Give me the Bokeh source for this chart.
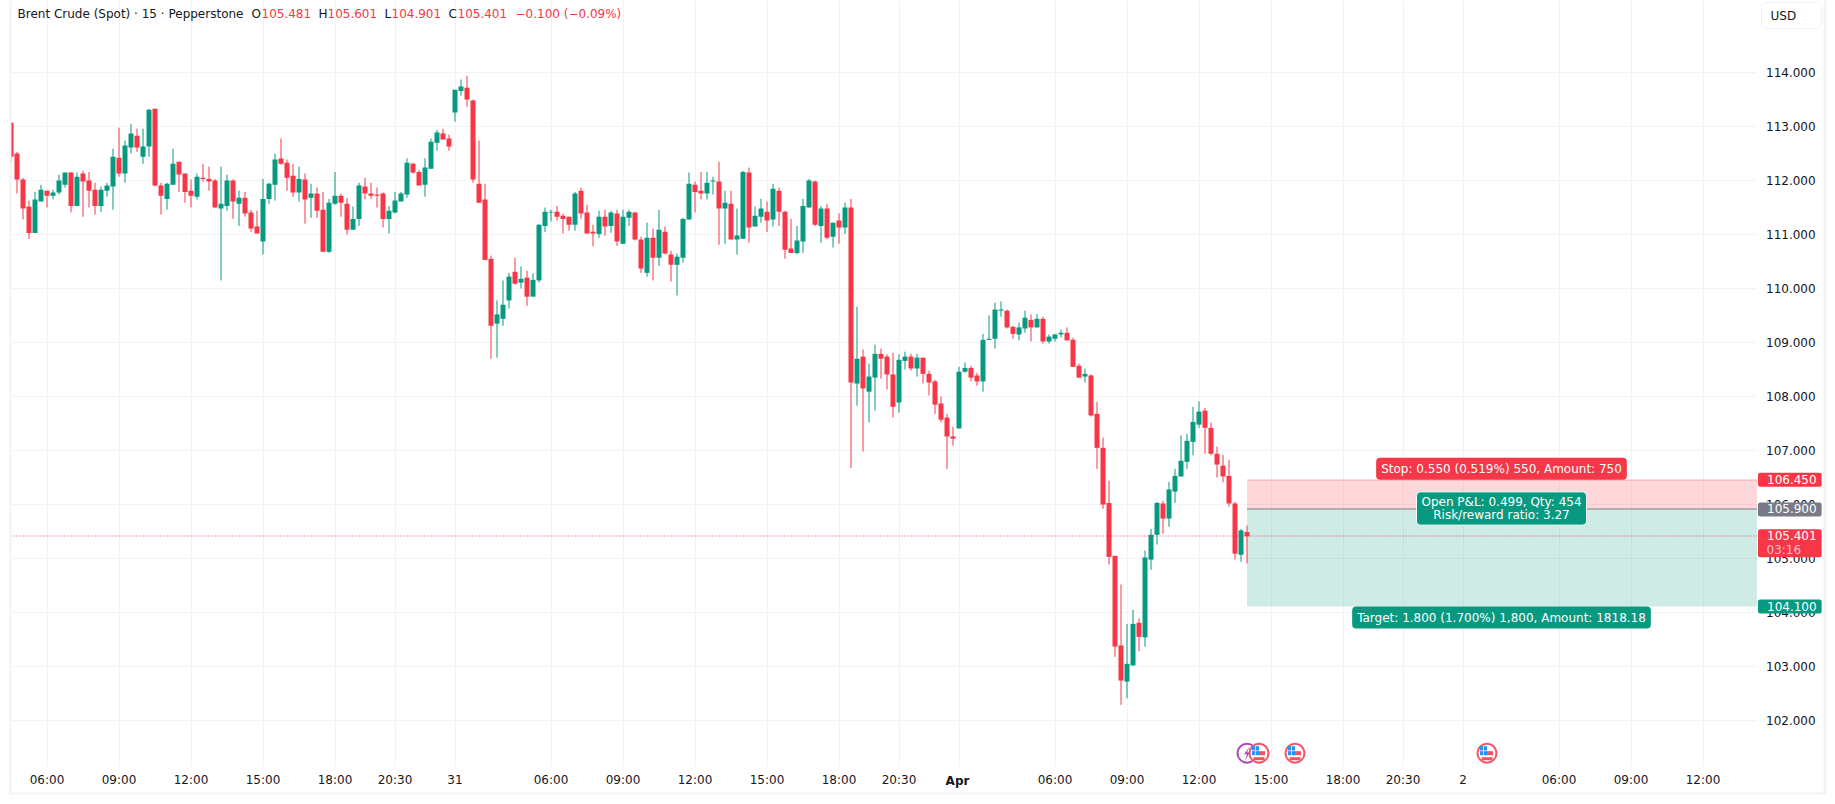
from math import floor
from bokeh.plotting import figure
from bokeh.models import LinearAxis, FixedTicker, Label, Grid, NumeralTickFormatter
from bokeh.embed import file_html
from bokeh.resources import INLINE

# OHLC of the 15 minute candles: wick high, upper body edge, lower body edge, wick low
highs = [113.06,112.52,112.04,111.62,111.78,111.91,111.80,111.82,112.10,112.14,
112.15,112.14,112.17,112.15,111.95,111.88,111.95,112.58,112.97,112.73,
113.04,112.95,112.95,113.32,113.32,111.95,111.95,112.58,112.34,112.12,
112.01,112.12,112.30,112.25,112.02,112.25,112.10,112.01,111.80,111.78,
111.45,111.43,112.02,111.95,112.49,112.77,112.38,112.30,112.25,112.12,
111.93,111.86,111.78,111.65,112.15,111.75,111.67,111.51,111.95,112.04,
111.95,111.86,111.77,111.52,111.78,111.78,112.40,112.32,112.19,112.40,
112.77,112.93,112.95,112.84,113.67,113.86,113.93,113.49,112.73,111.93,
110.60,109.77,110.14,110.28,110.56,110.40,110.32,110.27,111.19,111.49,
111.45,111.52,111.38,111.32,111.78,111.86,111.54,111.17,111.43,111.45,
111.43,111.45,111.45,111.45,111.41,110.95,111.21,111.10,111.45,111.14,
110.69,110.64,111.30,112.14,111.97,112.15,112.15,112.06,112.34,111.80,
111.80,111.47,112.17,112.23,111.51,111.65,111.60,111.93,111.86,111.43,
111.28,111.15,111.65,112.02,111.99,111.52,111.56,111.21,111.38,111.58,
111.65,109.65,108.86,108.60,108.95,108.88,108.77,108.80,108.77,108.82,
108.78,108.78,108.71,108.47,108.30,107.99,107.67,107.43,108.54,108.62,
108.56,108.43,109.15,109.49,109.73,109.75,109.60,109.30,109.36,109.58,
109.51,109.52,109.47,109.14,109.15,109.23,109.27,109.08,108.60,108.51,
108.40,107.89,107.23,106.43,105.04,104.51,103.78,104.04,103.88,105.14,
105.54,106.04,106.06,106.41,106.65,107.27,107.30,107.80,107.90,107.78,
107.51,107.06,106.91,106.82,106.04,105.54,105.601]
body_top = [113.06,112.49,112.01,111.51,111.64,111.82,111.80,111.77,111.99,112.14,
112.14,112.06,112.12,111.99,111.82,111.82,111.90,112.43,112.41,112.64,
112.86,112.82,112.62,113.30,113.32,111.90,111.93,112.30,112.34,112.12,
111.80,112.06,112.04,112.02,111.99,111.56,111.99,111.99,111.67,111.67,
111.40,111.14,111.65,111.93,112.38,112.40,112.32,112.08,112.02,112.01,
111.75,111.75,111.45,111.58,111.71,111.71,111.56,111.28,111.90,111.88,
111.75,111.73,111.75,111.43,111.62,111.75,112.32,112.30,112.15,112.23,
112.71,112.88,112.86,112.77,113.67,113.73,113.71,113.47,111.93,111.64,
110.54,109.51,109.69,110.21,110.30,110.17,110.19,110.15,111.17,111.41,
111.41,111.41,111.34,111.32,111.75,111.80,111.40,111.04,111.32,111.32,
111.40,111.38,111.32,111.41,111.40,110.90,110.93,110.93,111.08,111.04,
110.62,110.58,111.28,111.93,111.91,111.80,111.95,111.99,111.97,111.58,
111.56,110.97,112.15,112.14,111.34,111.47,111.41,111.84,111.80,111.41,
110.73,110.88,111.52,111.99,111.97,111.47,111.47,111.21,111.25,111.49,
111.49,108.69,108.73,108.36,108.78,108.78,108.73,108.40,108.67,108.73,
108.73,108.71,108.71,108.41,108.27,107.86,107.60,107.25,108.45,108.52,
108.52,108.38,109.04,109.06,109.60,109.60,109.58,109.28,109.27,109.45,
109.41,109.43,109.43,109.10,109.14,109.17,109.17,109.04,108.56,108.41,
108.38,107.67,107.04,106.02,105.04,103.38,103.04,103.78,103.80,105.01,
105.43,106.02,106.01,106.27,106.52,106.80,107.17,107.52,107.71,107.73,
107.41,106.93,106.71,106.52,106.01,105.51,105.481]
body_bottom = [112.43,112.01,111.47,111.02,111.02,111.60,111.71,111.71,111.77,111.91,
111.52,111.52,111.97,111.80,111.52,111.52,111.80,111.88,112.12,112.12,
112.60,112.60,112.43,112.62,111.90,111.71,111.65,111.91,112.10,111.78,
111.71,111.69,112.02,111.97,111.49,111.47,111.52,111.60,111.56,111.38,
111.10,111.01,110.86,111.65,111.91,112.30,112.04,111.77,111.77,111.64,
111.67,111.43,110.67,110.67,111.56,111.58,111.08,111.08,111.28,111.75,
111.71,111.71,111.28,111.28,111.40,111.60,111.73,112.14,111.90,111.91,
112.21,112.69,112.75,112.62,113.25,113.65,113.49,112.01,111.58,110.52,
109.30,109.34,109.43,109.77,110.08,110.10,109.84,109.84,110.14,111.15,
111.40,111.32,111.28,111.17,111.17,111.38,111.01,111.01,111.00,111.14,
111.15,110.86,110.82,111.30,110.90,110.36,110.28,110.56,110.56,110.64,
110.43,110.43,110.56,111.27,111.78,111.75,111.75,111.97,111.47,111.47,
110.90,110.90,110.91,111.12,111.14,111.32,111.25,111.27,111.41,110.71,
110.65,110.65,110.86,111.49,111.17,111.15,110.93,110.95,111.12,111.12,
108.25,108.23,108.14,108.08,108.34,108.69,108.40,107.80,107.88,108.65,
108.51,108.51,108.41,108.25,107.84,107.56,107.25,107.21,107.40,108.45,
108.34,108.27,108.27,109.04,109.06,109.58,109.27,109.15,109.14,109.25,
109.27,109.27,109.01,109.01,109.06,109.14,109.03,108.54,108.34,108.36,
107.64,107.04,105.99,105.02,103.36,102.73,102.71,103.01,103.54,103.53,
104.97,105.43,105.73,105.73,106.23,106.51,106.78,107.15,107.47,107.41,
106.93,106.73,106.51,106.01,105.08,105.06,105.401]
lows = [112.33,111.75,111.27,110.91,111.02,111.60,111.49,111.64,111.73,111.86,
111.40,111.52,111.32,111.49,111.36,111.41,111.69,111.45,112.06,111.95,
112.49,112.52,112.30,112.43,111.88,111.36,111.45,111.91,111.78,111.58,
111.49,111.64,111.97,111.80,111.49,110.14,111.43,111.28,111.15,111.32,
111.04,111.01,110.62,111.56,111.62,112.28,111.80,111.69,111.60,111.19,
111.30,111.30,110.67,110.65,111.54,111.32,110.99,111.08,111.15,111.64,
111.65,111.49,111.12,111.01,111.38,111.60,111.67,112.12,111.90,111.69,
112.21,112.54,112.75,112.54,113.08,113.56,113.36,111.95,111.58,110.52,
108.69,108.71,109.30,109.62,110.06,109.99,109.67,109.84,110.10,111.04,
111.23,111.25,111.01,111.06,111.06,111.28,111.01,110.77,110.93,110.97,
111.02,110.78,110.82,111.15,110.88,110.28,110.21,110.14,110.41,110.62,
110.12,109.86,110.47,111.27,111.40,111.64,111.64,111.73,110.80,110.82,
110.90,110.62,110.91,110.84,111.14,111.21,111.04,111.14,111.15,110.54,
110.65,110.62,110.65,111.49,111.15,110.84,110.90,110.75,110.82,111.00,
106.67,107.82,106.97,107.51,107.73,108.32,108.12,107.60,107.69,108.49,
108.47,108.36,108.23,108.01,107.67,107.51,106.65,107.08,107.40,108.43,
108.27,108.19,108.08,109.04,108.88,109.47,109.25,109.06,109.03,109.17,
109.01,109.27,108.97,108.97,109.01,109.08,109.03,108.54,108.34,108.25,
107.62,106.65,105.91,104.88,103.17,102.28,102.40,103.01,103.27,103.36,
104.78,105.25,105.45,105.58,106.02,106.51,106.65,106.90,107.41,106.93,
106.90,106.49,106.40,105.95,104.97,104.93,104.901]
# R = falling candle, G = rising candle
direction = ("RRRRGGRGGG" "RGRRRGGGRG" "GRGGRRGGRR" "RGRRRGGRGR" "RRGGGRRRGR"
             "GRRGGRRGGR" "RRRGGGGRRG" "GGRRGGRRRR" "RGGGRGRGGG" "GRRRGRRRGR"
             "GRGGRRGRGR" "RGGGRRGGRG" "RGGRGGRGRR" "RGGGRGRGRG" "RGRGGRRRGG"
             "RGRRRRRRGG" "RRGGGGRRGG" "RGRGGGRRRG" "RRRRRRGGRG" "GGRGGGGGGR"
             "RRRRRGR")

price_ticks = [102, 103, 104, 105, 106, 107, 108, 109, 110, 111, 112, 113, 114]
time_ticks = [6, 18, 30, 42, 54, 64, 74, 90, 102, 114, 126, 138, 148, 158, 174,
              186, 198, 210, 222, 232, 242, 258, 270, 282]
time_labels = ["06:00", "09:00", "12:00", "15:00", "18:00", "20:30", "31", "06:00",
               "09:00", "12:00", "15:00", "18:00", "20:30", " ", "06:00", "09:00",
               "12:00", "15:00", "18:00", "20:30", "2", "06:00", "09:00", "12:00"]

entry_price = 105.900
stop_price = 106.450
target_price = 104.100
last_price = 105.401
position_start = 206
flag_events = [208, 214, 246]
bolt_events = [206]

RED = "#f63748"
TEAL = "#089981"
GREY = "#787b86"
GRID = "#f2f3f6"
EDGE = "#f2f3f5"
INK = "#131722"
FONT = "DejaVu Sans"
PX_X = 1 / 6.0
PX_Y = 1 / 54.0


def dx(page_x):
    return (page_x - 10.5) * PX_X


def dy(page_y):
    return 114 - (page_y - 71.5) * PX_Y


def crisp(price):
    """Nudge a horizontal 1px line onto a pixel row."""
    return dy(floor(71.5 + (114 - price) / PX_Y) + 0.5)


PANE_RIGHT = 1756.5
PANE_BOTTOM = 766

p = figure(width=1835, height=804, output_backend="svg", toolbar_location=None,
           x_range=(dx(0), dx(1835)), y_range=(dy(804), dy(0)),
           min_border=0, y_axis_location=None, x_axis_location="below")
p.outline_line_color = None
p.background_fill_color = "white"
p.border_fill_color = "white"

xaxis = p.xaxis[0]
xaxis.fixed_location = dy(PANE_BOTTOM)
xaxis.ticker = FixedTicker(ticks=time_ticks)
xaxis.major_label_overrides = {t: s for t, s in zip(time_ticks, time_labels)}
xaxis.axis_line_color = None
xaxis.major_tick_line_color = None
xaxis.minor_tick_line_color = None
xaxis.major_label_text_font = FONT
xaxis.major_label_text_font_size = "12px"
xaxis.major_label_text_color = INK
xaxis.major_label_standoff = 0

yaxis = LinearAxis(ticker=FixedTicker(ticks=price_ticks), fixed_location=dx(PANE_RIGHT))
yaxis.formatter = NumeralTickFormatter(format="0.000")
yaxis.axis_line_color = None
yaxis.major_tick_line_color = None
yaxis.minor_tick_line_color = None
yaxis.major_label_text_font = FONT
yaxis.major_label_text_font_size = "12px"
yaxis.major_label_text_color = INK
yaxis.major_label_standoff = 3
p.add_layout(yaxis, "right")

p.xgrid.grid_line_color = GRID
p.xgrid.ticker = FixedTicker(ticks=time_ticks)
p.add_layout(Grid(dimension=1, ticker=FixedTicker(ticks=price_ticks), grid_line_color=GRID))

# position tool areas
far_right = dx(PANE_RIGHT)
p.quad(left=[position_start], right=[far_right], top=[stop_price], bottom=[entry_price],
       fill_color=RED, fill_alpha=0.2, line_color=None)
p.quad(left=[position_start], right=[far_right], top=[entry_price], bottom=[target_price],
       fill_color=TEAL, fill_alpha=0.2, line_color=None)
p.segment(x0=[position_start], x1=[far_right], y0=[crisp(stop_price)], y1=[crisp(stop_price)],
          line_color=RED, line_alpha=0.3, line_width=1)
p.segment(x0=[position_start], x1=[far_right], y0=[crisp(entry_price)], y1=[crisp(entry_price)],
          line_color=GREY, line_width=1)

# candles
xs = list(range(len(highs)))
colors = [RED if d == "R" else TEAL for d in direction]
p.segment(x0=xs, x1=xs, y0=lows, y1=highs, line_color=colors, line_width=1)
p.vbar(x=xs, width=5 * PX_X, top=body_top, bottom=body_bottom, fill_color=colors, line_color=None)

# last price line
p.segment(x0=[dx(10)], x1=[far_right], y0=[crisp(last_price)], y1=[crisp(last_price)],
          line_color=RED, line_width=1, line_dash="1 2")

# event markers in the lower part of the pane
EVENT_Y = dy(752.7)
n_flags = len(flag_events)
p.scatter(x=bolt_events, y=[EVENT_Y] * len(bolt_events), size=19, marker="circle",
          fill_color="white", line_color="#ab47bc", line_width=2)
for ex in bolt_events:
    p.patch(x=[ex + d * PX_X for d in (3, -3, 0, -2, 3, 0)],
            y=[EVENT_Y + d * PX_Y for d in (7, -1, -1, -7, 1, 1)],
            fill_color="#ab47bc", line_color=None)
p.scatter(x=flag_events, y=[EVENT_Y] * n_flags, size=19, marker="circle",
          fill_color="white", line_color="#f7525f", line_width=2)
p.rect(x=[e + 3 * PX_X for e in flag_events], y=[EVENT_Y] * n_flags,
       width=6, height=4, width_units="screen", height_units="screen",
       fill_color="#f7525f", line_color=None)
p.rect(x=flag_events, y=[EVENT_Y - 5.5 * PX_Y] * n_flags,
       width=11, height=3, width_units="screen", height_units="screen",
       fill_color="#f7525f", line_color=None)
p.rect(x=[e - 3.5 * PX_X for e in flag_events], y=[EVENT_Y + 2.5 * PX_Y] * n_flags,
       width=7, height=9, width_units="screen", height_units="screen",
       fill_color="#2196f3", line_color=None)
p.rect(x=[e - 3.5 * PX_X for e in flag_events], y=[EVENT_Y + 2.5 * PX_Y] * n_flags,
       width=7, height=1, width_units="screen", height_units="screen",
       fill_color="#bbdefb", line_color=None)
p.rect(x=[e - 3.5 * PX_X for e in flag_events], y=[EVENT_Y + 2.5 * PX_Y] * n_flags,
       width=1, height=9, width_units="screen", height_units="screen",
       fill_color="#bbdefb", line_color=None)

# white surroundings of the pane and the chart's outer edge
p.quad(left=[dx(0), dx(PANE_RIGHT), dx(0)], right=[dx(10), dx(1835), dx(1835)],
       top=[dy(0), dy(0), dy(PANE_BOTTOM)], bottom=[dy(804), dy(804), dy(804)],
       fill_color="white", line_color=None)
p.quad(left=[dx(9), dx(1823), dx(9)], right=[dx(11), dx(1826), dx(1826)],
       top=[dy(0), dy(0), dy(792)], bottom=[dy(794), dy(794), dy(794)],
       fill_color=EDGE, line_color=None)


def add_text(text, page_x, color=INK, page_y=None, price=None, align="left", baseline="middle",
             size="12px", style="normal", **kw):
    y = price if price is not None else dy(page_y)
    p.add_layout(Label(x=page_x, x_units="screen", y=y, y_units="data", text=text,
                       text_color=color, text_font=FONT, text_font_size=size, text_align=align,
                       text_baseline=baseline, text_font_style=style, **kw))


# price tags; padding is (left, right, top, bottom)
TAG = dict(padding=(9, 5, 2, 3), border_radius=2)
add_text("106.450", 1757.5, "white", price=stop_price, background_fill_color=RED, **TAG)
add_text("105.900", 1757.5, "white", price=entry_price, background_fill_color=GREY, **TAG)
add_text("104.100", 1757.5, "white", price=target_price, background_fill_color=TEAL, **TAG)
add_text("105.401", 1757.5, "white", price=last_price - 7 * PX_Y, background_fill_color=RED,
         padding=(9, 5, 2, 17), border_radius=2)
add_text("03:16", 1766, "#fdc0c6", price=last_price - 13.5 * PX_Y)

# position tool texts
add_text("Stop: 0.550 (0.519%) 550, Amount: 750", 1501, "white", price=stop_price, align="center",
         baseline="bottom", background_fill_color=RED, padding=(5, 5, 4, 4), border_radius=4)
add_text("Target: 1.800 (1.700%) 1,800, Amount: 1818.18", 1501, "white", price=target_price,
         align="center", baseline="top", background_fill_color=TEAL, padding=(5, 5, 4, 4),
         border_radius=4)
add_text("Open P&L: 0.499, Qty: 454\nRisk/reward ratio: 3.27", 1501, "white", page_y=508,
         align="center", background_fill_color=TEAL, border_line_color="white", border_line_width=1,
         padding=(5, 5, 3, 3), border_radius=4, text_line_height=0.95)

# header
add_text("Brent Crude (Spot) · 15 · Pepperstone", 17, INK, page_y=13)
for label, lx, val, vx in [("O", 251, "105.481", 261), ("H", 318, "105.601", 327),
                           ("L", 384, "104.901", 391), ("C", 448, "105.401", 457)]:
    add_text(label, lx, INK, page_y=13)
    add_text(val, vx, RED, page_y=13)
add_text("−0.100 (−0.09%)", 515, RED, page_y=13)

# currency button
add_text("USD", 1761, INK, page_y=15, background_fill_color="white", border_line_color="#f0f1f4",
         border_line_width=1, padding=(9, 25, 6, 6), border_radius=5)

# bold month label
add_text("Apr", 957, INK, page_y=780, align="center", style="bold")

open("out.html", "w").write(file_html(p, INLINE))
